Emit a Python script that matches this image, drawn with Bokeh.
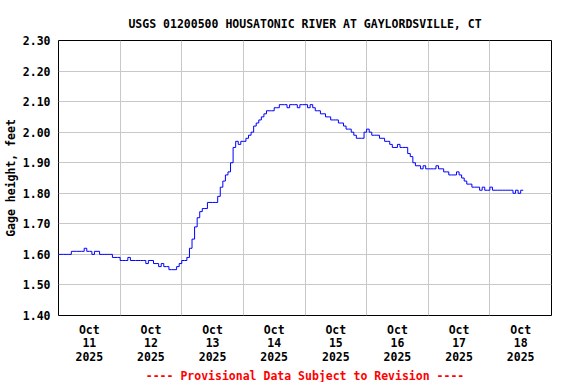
import pandas as pd
from bokeh.plotting import figure
from bokeh.models import Range1d, FixedTicker, DatetimeTickFormatter, Title, CustomJSTickFormatter
from bokeh.embed import file_html
from bokeh.resources import INLINE

title_text = "USGS 01200500 HOUSATONIC RIVER AT GAYLORDSVILLE, CT"
y_label = "Gage height, feet"
footer_text = "---- Provisional Data Subject to Revision ----"

start_time = "2025-10-11 00:00"
end_time = "2025-10-19 00:00"

# hourly gage height readings (feet), starting Oct 11 2025 00:00
gage_height_ft = [
    1.60, 1.60, 1.60, 1.60, 1.60, 1.61, 1.61, 1.61, 1.61, 1.61,
    1.62, 1.61, 1.61, 1.60, 1.61, 1.61, 1.60, 1.60, 1.60, 1.60,
    1.60, 1.59, 1.59, 1.59, 1.58, 1.58, 1.58, 1.59, 1.58, 1.58,
    1.58, 1.58, 1.58, 1.58, 1.57, 1.58, 1.58, 1.57, 1.57, 1.56,
    1.57, 1.56, 1.56, 1.55, 1.55, 1.55, 1.56, 1.57, 1.58, 1.58,
    1.59, 1.62, 1.65, 1.69, 1.72, 1.74, 1.75, 1.75, 1.77, 1.77,
    1.77, 1.77, 1.79, 1.82, 1.84, 1.86, 1.87, 1.90, 1.95, 1.97,
    1.96, 1.97, 1.97, 1.98, 1.99, 2.00, 2.02, 2.03, 2.04, 2.05,
    2.06, 2.07, 2.07, 2.07, 2.08, 2.08, 2.09, 2.09, 2.09, 2.08,
    2.09, 2.09, 2.09, 2.08, 2.09, 2.09, 2.09, 2.08, 2.09, 2.08,
    2.07, 2.07, 2.06, 2.06, 2.05, 2.05, 2.04, 2.04, 2.04, 2.03,
    2.03, 2.02, 2.01, 2.01, 2.00, 1.99, 1.98, 1.98, 1.98, 2.00,
    2.01, 2.00, 1.99, 1.99, 1.99, 1.98, 1.98, 1.97, 1.97, 1.96,
    1.95, 1.95, 1.96, 1.95, 1.95, 1.95, 1.93, 1.92, 1.90, 1.89,
    1.89, 1.88, 1.89, 1.88, 1.88, 1.88, 1.88, 1.89, 1.88, 1.88,
    1.87, 1.87, 1.86, 1.86, 1.86, 1.87, 1.86, 1.85, 1.84, 1.83,
    1.83, 1.82, 1.82, 1.82, 1.81, 1.82, 1.81, 1.81, 1.82, 1.81,
    1.81, 1.81, 1.81, 1.81, 1.81, 1.81, 1.81, 1.80, 1.81, 1.80,
    1.81, 1.81,
]

y_ticks = [1.40, 1.50, 1.60, 1.70, 1.80, 1.90, 2.00, 2.10, 2.20, 2.30]
label_days = ["2025-10-%02d 12:00" % d for d in range(11, 19)]
grid_days = ["2025-10-%02d 00:00" % d for d in range(12, 19)]


def ms(s):
    return pd.Timestamp(s).timestamp() * 1000.0


times = pd.date_range(start_time, periods=len(gage_height_ft), freq="h")

FONT = "DejaVu Sans Mono"
FS = "11.5px"

p = figure(
    width=570, height=382,
    x_axis_type="datetime",
    x_range=Range1d(ms(start_time), ms(end_time)),
    y_range=Range1d(1.40, 2.30),
    output_backend="svg", toolbar_location=None,
    min_border_left=58, min_border_right=19, min_border_top=40, min_border_bottom=67,
)
p.background_fill_color = "white"
p.border_fill_color = "white"
p.outline_line_color = "black"
p.outline_line_width = 1

p.step(times, gage_height_ft, mode="after", line_color="#0000ff", line_width=1)

# grids
p.xgrid.ticker = FixedTicker(ticks=[ms(d) for d in grid_days])
p.ygrid.ticker = FixedTicker(ticks=y_ticks)
for g in (p.xgrid, p.ygrid):
    g.grid_line_color = "#c8c8c8"
    g.grid_line_width = 1

# axes
fmt = "%b\n%d\n%Y"
p.xaxis.ticker = FixedTicker(ticks=[ms(d) for d in label_days])
p.xaxis.formatter = DatetimeTickFormatter(
    days=fmt, hours=fmt, hourmin=fmt, months=fmt, years=fmt, minutes=fmt,
)
p.yaxis.ticker = FixedTicker(ticks=y_ticks)
p.yaxis.formatter = CustomJSTickFormatter(code="return tick.toFixed(2);")

for ax in (p.xaxis, p.yaxis):
    ax.axis_line_color = None
    ax.major_tick_line_color = None
    ax.minor_tick_line_color = None
    ax.major_tick_out = 0
    ax.major_tick_in = 0
    ax.minor_tick_out = 0
    ax.major_label_text_font = FONT
    ax.major_label_text_font_style = "bold"
    ax.major_label_text_font_size = FS
    ax.major_label_text_color = "black"

p.xaxis.major_label_standoff = 7
p.xaxis.major_label_text_line_height = 0.97
p.yaxis.major_label_standoff = 8

p.yaxis.axis_label = y_label
p.yaxis.axis_label_text_font = FONT
p.yaxis.axis_label_text_font_style = "bold"
p.yaxis.axis_label_text_font_size = FS
p.yaxis.axis_label_text_color = "black"
p.yaxis.axis_label_standoff = 2

p.title.text = title_text
p.title.align = "center"
p.title.text_font = FONT
p.title.text_font_style = "bold"
p.title.text_font_size = FS
p.title.text_color = "black"
p.title.standoff = 19

p.add_layout(Title(text=footer_text, align="center", text_font=FONT,
                   text_font_style="bold", text_font_size=FS, text_color="red",
                   standoff=0), "below")

open("out.html", "w").write(file_html(p, INLINE))
